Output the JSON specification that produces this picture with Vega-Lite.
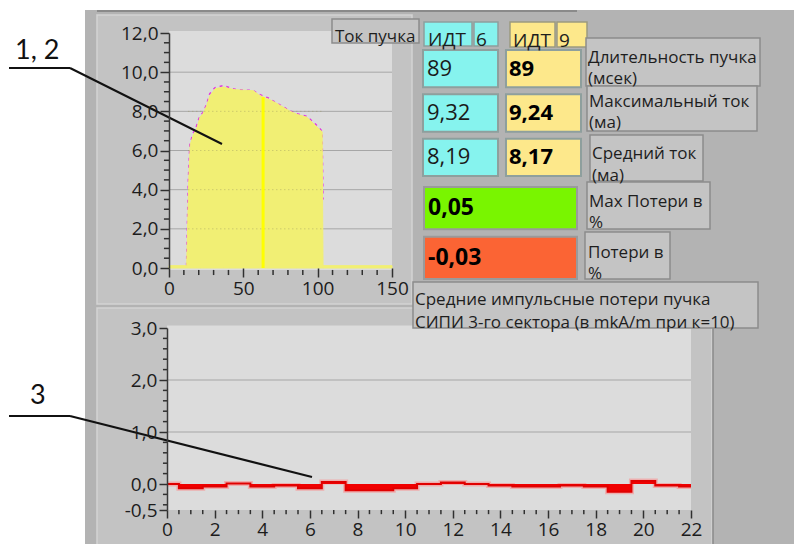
{
  "$schema": "https://vega.github.io/schema/vega-lite/v6.json",
  "width": 794,
  "height": 544,
  "autosize": {"type": "none"},
  "padding": 0,
  "background": "#ffffff",
  "config": {
    "view": {"stroke": null},
    "axis": {"labelFont": "Open Sans", "labelFontSize": 19, "labelColor": "#1c1c1c", "tickColor": "#303030", "domainColor": "#3a3a3a", "grid": false, "labelFlush": false}
  },
  "datasets": {
    "beam": [
      {"s": "ИДТ 9", "t": 0, "i": 0.12}, {"s": "ИДТ 9", "t": 11.9, "i": 0.12}, {"s": "ИДТ 9", "t": 12.5, "i": 2.0}, {"s": "ИДТ 9", "t": 13.3, "i": 4.5},
      {"s": "ИДТ 9", "t": 14.3, "i": 6.3}, {"s": "ИДТ 9", "t": 16.4, "i": 6.8}, {"s": "ИДТ 9", "t": 18.6, "i": 7.1}, {"s": "ИДТ 9", "t": 20.9, "i": 7.7},
      {"s": "ИДТ 9", "t": 23, "i": 7.9}, {"s": "ИДТ 9", "t": 25.4, "i": 8.3}, {"s": "ИДТ 9", "t": 27.6, "i": 8.8}, {"s": "ИДТ 9", "t": 31, "i": 9.15},
      {"s": "ИДТ 9", "t": 36.6, "i": 9.24}, {"s": "ИДТ 9", "t": 41, "i": 9.15}, {"s": "ИДТ 9", "t": 45, "i": 9.1}, {"s": "ИДТ 9", "t": 50, "i": 9.08},
      {"s": "ИДТ 9", "t": 56.8, "i": 9.05}, {"s": "ИДТ 9", "t": 60.2, "i": 8.85}, {"s": "ИДТ 9", "t": 63.6, "i": 8.72}, {"s": "ИДТ 9", "t": 66.9, "i": 8.62},
      {"s": "ИДТ 9", "t": 70.3, "i": 8.5}, {"s": "ИДТ 9", "t": 74.8, "i": 8.3}, {"s": "ИДТ 9", "t": 81.5, "i": 8.0}, {"s": "ИДТ 9", "t": 86, "i": 7.85},
      {"s": "ИДТ 9", "t": 92.7, "i": 7.7}, {"s": "ИДТ 9", "t": 96.1, "i": 7.45}, {"s": "ИДТ 9", "t": 101.7, "i": 7.05}, {"s": "ИДТ 9", "t": 103, "i": 6.95},
      {"s": "ИДТ 9", "t": 103.6, "i": 0.12}, {"s": "ИДТ 9", "t": 150, "i": 0.12},
      {"s": "ИДТ 6", "t": 11.8, "i": 0.12}, {"s": "ИДТ 6", "t": 12.3, "i": 2.0}, {"s": "ИДТ 6", "t": 13.0, "i": 4.5},
      {"s": "ИДТ 6", "t": 14.0, "i": 6.3}, {"s": "ИДТ 6", "t": 16.0, "i": 6.85}, {"s": "ИДТ 6", "t": 18.3, "i": 7.2}, {"s": "ИДТ 6", "t": 20.6, "i": 7.75},
      {"s": "ИДТ 6", "t": 23, "i": 7.95}, {"s": "ИДТ 6", "t": 25.2, "i": 8.35}, {"s": "ИДТ 6", "t": 27.4, "i": 8.9}, {"s": "ИДТ 6", "t": 30.8, "i": 9.2},
      {"s": "ИДТ 6", "t": 36.6, "i": 9.32}, {"s": "ИДТ 6", "t": 41, "i": 9.2}, {"s": "ИДТ 6", "t": 45, "i": 9.12}, {"s": "ИДТ 6", "t": 50, "i": 9.09},
      {"s": "ИДТ 6", "t": 56.8, "i": 9.06}, {"s": "ИДТ 6", "t": 60.2, "i": 8.88}, {"s": "ИДТ 6", "t": 63.6, "i": 8.78}, {"s": "ИДТ 6", "t": 66.9, "i": 8.68},
      {"s": "ИДТ 6", "t": 70.3, "i": 8.52}, {"s": "ИДТ 6", "t": 74.8, "i": 8.32}, {"s": "ИДТ 6", "t": 81.5, "i": 8.02}, {"s": "ИДТ 6", "t": 86, "i": 7.88},
      {"s": "ИДТ 6", "t": 92.7, "i": 7.75}, {"s": "ИДТ 6", "t": 96.1, "i": 7.52}, {"s": "ИДТ 6", "t": 98.5, "i": 7.35}, {"s": "ИДТ 6", "t": 101.7, "i": 7.1},
      {"s": "ИДТ 6", "t": 103, "i": 6.98}, {"s": "ИДТ 6", "t": 103.6, "i": 3.5}
    ],
    "loss": [
      {"k": 0, "p": 0.0}, {"k": 1, "p": -0.08}, {"k": 2, "p": -0.05}, {"k": 3, "p": 0.01}, {"k": 4, "p": -0.05}, {"k": 5, "p": -0.03},
      {"k": 6, "p": -0.08}, {"k": 7, "p": 0.04}, {"k": 8, "p": -0.12}, {"k": 9, "p": -0.12}, {"k": 10, "p": -0.08}, {"k": 11, "p": 0.0},
      {"k": 12, "p": 0.03}, {"k": 13, "p": 0.0}, {"k": 14, "p": -0.03}, {"k": 15, "p": -0.05}, {"k": 16, "p": -0.05}, {"k": 17, "p": -0.03},
      {"k": 18, "p": -0.05}, {"k": 19, "p": -0.15}, {"k": 20, "p": 0.06}, {"k": 21, "p": -0.03}, {"k": 22, "p": -0.05}
    ],
    "grid": [
      {"idt": "ИДТ 6", "param": "Длительность пучка", "value": "89"},
      {"idt": "ИДТ 9", "param": "Длительность пучка", "value": "89"},
      {"idt": "ИДТ 6", "param": "Максимальный ток", "value": "9,32"},
      {"idt": "ИДТ 9", "param": "Максимальный ток", "value": "9,24"},
      {"idt": "ИДТ 6", "param": "Средний ток", "value": "8,19"},
      {"idt": "ИДТ 9", "param": "Средний ток", "value": "8,17"}
    ],
    "losses": [
      {"param": "Max Потери в %", "value": "0,05"},
      {"param": "Потери в %", "value": "-0,03"}
    ]
  },
  "resolve": {
    "scale": {"x": "independent", "y": "independent", "color": "independent"},
    "axis": {"x": "independent", "y": "independent"}
  },
  "layer": [
    {
      "data": {"values": [{}]},
      "layer": [
        {"mark": {"type": "rect", "fill": "#b3b3b3"},
         "encoding": {"x": {"datum": 85, "type": "quantitative", "scale": {"domain": [0, 794], "range": [0, 794], "nice": false, "zero": false}, "axis": null}, "x2": {"datum": 794},
                      "y": {"datum": 10, "type": "quantitative", "scale": {"domain": [0, 544], "range": [0, 544], "nice": false, "zero": false}, "axis": null}, "y2": {"datum": 544}}},
        {"mark": {"type": "rule", "stroke": "#8a8a8a", "strokeWidth": 2},
         "encoding": {"x": {"datum": 97, "type": "quantitative"}, "x2": {"datum": 577}, "y": {"datum": 11, "type": "quantitative"}}},
        {"mark": {"type": "rect", "fill": "#c3c3c3", "stroke": "#d4d4d4", "strokeWidth": 1.5},
         "encoding": {"x": {"datum": 97, "type": "quantitative"}, "x2": {"datum": 412}, "y": {"datum": 15, "type": "quantitative"}, "y2": {"datum": 304}}},
        {"mark": {"type": "rect", "fill": "#c3c3c3", "stroke": "#d4d4d4", "strokeWidth": 1.5},
         "encoding": {"x": {"datum": 97, "type": "quantitative"}, "x2": {"datum": 712}, "y": {"datum": 308, "type": "quantitative"}, "y2": {"datum": 545}}},
        {"mark": {"type": "rule", "stroke": "#8a8a8a", "strokeWidth": 1.5},
         "encoding": {"x": {"datum": 713, "type": "quantitative"}, "y": {"datum": 308, "type": "quantitative"}, "y2": {"datum": 544}}}
      ]
    },
    {
      "data": {"name": "beam"},
      "layer": [
        {"data": {"values": [{}]},
         "mark": {"type": "rect", "fill": "#dcdcdc"},
         "encoding": {
           "x": {"datum": 0, "type": "quantitative", "scale": {"domain": [0, 150], "range": [169, 392], "nice": false, "zero": false},
                 "axis": {"orient": "bottom", "offset": -276, "title": null, "domain": false, "zindex": 3, "values": [0, 50, 100, 150],
                          "tickSize": 9, "tickWidth": 1.5, "labelPadding": 2}},
           "x2": {"datum": 150},
           "y": {"datum": -0.1, "type": "quantitative", "scale": {"domain": [0, 12], "range": [268, 33], "nice": false, "zero": false},
                 "axis": {"orient": "left", "offset": -169, "title": null, "domain": true, "domainWidth": 1.5, "zindex": 3, "values": [0, 2, 4, 6, 8, 10, 12],
                          "labelExpr": "replace(format(datum.value, '.1f'), '.', ',')", "tickSize": 9, "tickWidth": 1.5, "labelPadding": 2}},
           "y2": {"datum": 12.1}}},
        {"data": {"values": [{"g": 2}, {"g": 4}, {"g": 6}, {"g": 8}, {"g": 10}]},
         "mark": {"type": "rule", "stroke": "#a6a6a6", "strokeWidth": 1},
         "encoding": {"x": {"datum": 0, "type": "quantitative"}, "x2": {"datum": 150}, "y": {"field": "g", "type": "quantitative"}}},
        {"data": {"values": [{"m": 0.5}, {"m": 1}, {"m": 1.5}, {"m": 2.5}, {"m": 3}, {"m": 3.5}, {"m": 4.5}, {"m": 5}, {"m": 5.5}, {"m": 6.5}, {"m": 7}, {"m": 7.5}, {"m": 8.5}, {"m": 9}, {"m": 9.5}, {"m": 10.5}, {"m": 11}, {"m": 11.5}]},
         "mark": {"type": "rule", "stroke": "#303030", "strokeWidth": 1.5},
         "encoding": {"x": {"datum": 0, "type": "quantitative"}, "x2": {"datum": -3.4}, "y": {"field": "m", "type": "quantitative"}}},
        {"data": {"values": [{"m": 10}, {"m": 20}, {"m": 30}, {"m": 40}, {"m": 60}, {"m": 70}, {"m": 80}, {"m": 90}, {"m": 110}, {"m": 120}, {"m": 130}, {"m": 140}]},
         "mark": {"type": "rule", "stroke": "#303030", "strokeWidth": 1.5},
         "encoding": {"x": {"field": "m", "type": "quantitative"}, "y": {"datum": -0.1, "type": "quantitative"}, "y2": {"datum": -0.36}}},
        {"transform": [{"filter": "datum.s === 'ИДТ 6'"}],
         "mark": {"type": "line", "stroke": "#e03ce0", "strokeWidth": 1.5, "strokeDash": [3, 4]},
         "encoding": {"x": {"field": "t", "type": "quantitative"}, "y": {"field": "i", "type": "quantitative"}}},
        {"transform": [{"filter": "datum.s === 'ИДТ 9'"}],
         "mark": {"type": "area", "fill": "#f1ef74", "stroke": "#f1ef74", "strokeWidth": 1},
         "encoding": {"x": {"field": "t", "type": "quantitative"}, "y": {"field": "i", "type": "quantitative"}}},
        {"data": {"values": [{"g": 2}, {"g": 4}, {"g": 6}, {"g": 8}]},
         "mark": {"type": "rule", "stroke": "#9a9860", "strokeWidth": 1, "strokeDash": [1, 3], "strokeOpacity": 0.6},
         "encoding": {"x": {"datum": 13, "type": "quantitative"}, "x2": {"datum": 103}, "y": {"field": "g", "type": "quantitative"}}},
        {"data": {"values": [{}]},
         "mark": {"type": "rule", "stroke": "#ffff00", "strokeWidth": 3},
         "encoding": {"x": {"datum": 63.3, "type": "quantitative"}, "y": {"datum": 0, "type": "quantitative"}, "y2": {"datum": 8.72}}}
      ]
    },
    {
      "data": {"name": "loss"},
      "layer": [
        {"data": {"values": [{}]},
         "mark": {"type": "rect", "fill": "#dcdcdc"},
         "encoding": {
           "x": {"datum": 0, "type": "quantitative", "scale": {"domain": [0, 22], "range": [167, 691], "nice": false, "zero": false},
                 "axis": {"orient": "bottom", "offset": -34, "title": null, "domain": false, "zindex": 3,
                          "values": [0, 2, 4, 6, 8, 10, 12, 14, 16, 18, 20, 22],
                          "tickSize": 8, "tickWidth": 1.5, "labelPadding": 2}},
           "x2": {"datum": 22},
           "y": {"datum": -0.5, "type": "quantitative", "scale": {"domain": [-0.5, 3], "range": [510, 328], "nice": false, "zero": false},
                 "axis": {"orient": "left", "offset": -167, "title": null, "domain": true, "domainWidth": 1.5, "zindex": 3,
                          "values": [-0.5, 0, 1, 2, 3],
                          "labelExpr": "replace(replace(format(datum.value, '.1f'), '.', ','), '−', '-')",
                          "tickSize": 8, "tickWidth": 1.5, "labelPadding": 2}},
           "y2": {"datum": 3.05}}},
        {"data": {"values": [{"g": 1}, {"g": 2}]},
         "mark": {"type": "rule", "stroke": "#a6a6a6", "strokeWidth": 1},
         "encoding": {"x": {"datum": 0, "type": "quantitative"}, "x2": {"datum": 22}, "y": {"field": "g", "type": "quantitative"}}},
        {"data": {"values": [{"m": -0.4}, {"m": -0.2}, {"m": 0.2}, {"m": 0.4}, {"m": 0.6}, {"m": 0.8}, {"m": 1.2}, {"m": 1.4}, {"m": 1.6}, {"m": 1.8}, {"m": 2.2}, {"m": 2.4}, {"m": 2.6}, {"m": 2.8}]},
         "mark": {"type": "rule", "stroke": "#303030", "strokeWidth": 1.5},
         "encoding": {"x": {"datum": 0, "type": "quantitative"}, "x2": {"datum": -0.17}, "y": {"field": "m", "type": "quantitative"}}},
        {"data": {"values": [{"m": 0.5}, {"m": 1}, {"m": 1.5}, {"m": 2.5}, {"m": 3}, {"m": 3.5}, {"m": 4.5}, {"m": 5}, {"m": 5.5}, {"m": 6.5}, {"m": 7}, {"m": 7.5}, {"m": 8.5}, {"m": 9}, {"m": 9.5}, {"m": 10.5}, {"m": 11}, {"m": 11.5}, {"m": 12.5}, {"m": 13}, {"m": 13.5}, {"m": 14.5}, {"m": 15}, {"m": 15.5}, {"m": 16.5}, {"m": 17}, {"m": 17.5}, {"m": 18.5}, {"m": 19}, {"m": 19.5}, {"m": 20.5}, {"m": 21}, {"m": 21.5}]},
         "mark": {"type": "rule", "stroke": "#303030", "strokeWidth": 1.5},
         "encoding": {"x": {"field": "m", "type": "quantitative"}, "y": {"datum": -0.5, "type": "quantitative"}, "y2": {"datum": -0.58}}},
        {"mark": {"type": "line", "interpolate": "step", "stroke": "#ff8080", "strokeWidth": 5, "strokeOpacity": 0.5},
         "encoding": {"x": {"field": "k", "type": "quantitative"}, "y": {"field": "p", "type": "quantitative"}}},
        {"mark": {"type": "area", "interpolate": "step", "fill": "#f00000"},
         "encoding": {"x": {"field": "k", "type": "quantitative"}, "y": {"field": "p", "type": "quantitative"}, "y2": {"datum": 0}}},
        {"mark": {"type": "line", "interpolate": "step", "stroke": "#e00000", "strokeWidth": 2},
         "encoding": {"x": {"field": "k", "type": "quantitative"}, "y": {"field": "p", "type": "quantitative"}}}
      ]
    },
    {
      "data": {"name": "grid"},
      "encoding": {
        "x": {"field": "idt", "type": "nominal", "scale": {"type": "band", "domain": ["ИДТ 6", "ИДТ 9"], "range": [423, 581], "paddingInner": 0.096, "paddingOuter": 0}, "axis": null},
        "y": {"field": "param", "type": "nominal", "scale": {"type": "band", "domain": ["Длительность пучка", "Максимальный ток", "Средний ток"], "range": [50, 176], "paddingInner": 0.16, "paddingOuter": 0}, "axis": null}
      },
      "layer": [
        {"mark": {"type": "rect", "stroke": "#8e9f9d", "strokeWidth": 2},
         "encoding": {"color": {"field": "idt", "type": "nominal", "scale": {"domain": ["ИДТ 6", "ИДТ 9"], "range": ["#86f3ee", "#fde88b"]}, "legend": null}}},
        {"transform": [{"filter": "datum.idt === 'ИДТ 6'"}],
         "mark": {"type": "text", "align": "left", "baseline": "middle", "dx": 4, "font": "Open Sans", "fontSize": 22, "fill": "#1a1a1a"},
         "encoding": {"x": {"field": "idt", "type": "nominal", "bandPosition": 0}, "text": {"field": "value"}}},
        {"transform": [{"filter": "datum.idt === 'ИДТ 9'"}],
         "mark": {"type": "text", "align": "left", "baseline": "middle", "dx": 3, "font": "Open Sans", "fontSize": 22, "fontWeight": "bold", "fill": "#000000"},
         "encoding": {"x": {"field": "idt", "type": "nominal", "bandPosition": 0}, "text": {"field": "value"}}}
      ]
    },
    {
      "data": {"name": "losses"},
      "encoding": {
        "y": {"field": "param", "type": "nominal", "scale": {"type": "band", "domain": ["Max Потери в %", "Потери в %"], "range": [187, 279], "paddingInner": 0.15, "paddingOuter": 0}, "axis": null}
      },
      "layer": [
        {"mark": {"type": "rect", "stroke": "#9a9a9a", "strokeWidth": 2},
         "encoding": {"x": {"datum": 424, "type": "quantitative", "scale": {"domain": [0, 794], "range": [0, 794], "nice": false, "zero": false}, "axis": null}, "x2": {"datum": 577},
                      "color": {"field": "param", "type": "nominal", "scale": {"domain": ["Max Потери в %", "Потери в %"], "range": ["#79f500", "#fb6434"]}, "legend": null}}},
        {"mark": {"type": "text", "align": "left", "baseline": "middle", "font": "Open Sans", "fontSize": 23, "fontWeight": "bold", "fill": "#000000"},
         "encoding": {"x": {"datum": 428, "type": "quantitative"}, "text": {"field": "value"}}}
      ]
    },
    {
      "data": {"values": [{}]},
      "encoding": {
        "x": {"type": "quantitative", "scale": {"domain": [0, 794], "range": [0, 794], "nice": false, "zero": false}, "axis": null},
        "y": {"type": "quantitative", "scale": {"domain": [0, 544], "range": [0, 544], "nice": false, "zero": false}, "axis": null}
      },
      "layer": [
        {"mark": {"type": "rect", "fill": "#c4c4c4", "stroke": "#8c8c8c", "strokeWidth": 1.5}, "encoding": {"x": {"datum": 332, "type": "quantitative"}, "x2": {"datum": 419}, "y": {"datum": 19, "type": "quantitative"}, "y2": {"datum": 43}}},
        {"mark": {"type": "rect", "fill": "#86f3ee", "stroke": "#8e9f9d", "strokeWidth": 1.5}, "encoding": {"x": {"datum": 424, "type": "quantitative"}, "x2": {"datum": 472}, "y": {"datum": 22, "type": "quantitative"}, "y2": {"datum": 46}}},
        {"mark": {"type": "rect", "fill": "#86f3ee", "stroke": "#8e9f9d", "strokeWidth": 1.5}, "encoding": {"x": {"datum": 474, "type": "quantitative"}, "x2": {"datum": 498}, "y": {"datum": 22, "type": "quantitative"}, "y2": {"datum": 46}}},
        {"mark": {"type": "rect", "fill": "#fde88b", "stroke": "#9c9a80", "strokeWidth": 1.5}, "encoding": {"x": {"datum": 510, "type": "quantitative"}, "x2": {"datum": 555}, "y": {"datum": 22, "type": "quantitative"}, "y2": {"datum": 47}}},
        {"mark": {"type": "rect", "fill": "#fde88b", "stroke": "#9c9a80", "strokeWidth": 1.5}, "encoding": {"x": {"datum": 557, "type": "quantitative"}, "x2": {"datum": 587}, "y": {"datum": 22, "type": "quantitative"}, "y2": {"datum": 47}}},
        {"mark": {"type": "rect", "fill": "#c4c4c4", "stroke": "#8c8c8c", "strokeWidth": 1.5}, "encoding": {"x": {"datum": 586, "type": "quantitative"}, "x2": {"datum": 760}, "y": {"datum": 38, "type": "quantitative"}, "y2": {"datum": 86}}},
        {"mark": {"type": "rect", "fill": "#c4c4c4", "stroke": "#8c8c8c", "strokeWidth": 1.5}, "encoding": {"x": {"datum": 587, "type": "quantitative"}, "x2": {"datum": 757}, "y": {"datum": 86, "type": "quantitative"}, "y2": {"datum": 131}}},
        {"mark": {"type": "rect", "fill": "#c4c4c4", "stroke": "#8c8c8c", "strokeWidth": 1.5}, "encoding": {"x": {"datum": 590, "type": "quantitative"}, "x2": {"datum": 703}, "y": {"datum": 135, "type": "quantitative"}, "y2": {"datum": 181}}},
        {"mark": {"type": "rect", "fill": "#c4c4c4", "stroke": "#8c8c8c", "strokeWidth": 1.5}, "encoding": {"x": {"datum": 587, "type": "quantitative"}, "x2": {"datum": 710}, "y": {"datum": 182, "type": "quantitative"}, "y2": {"datum": 229}}},
        {"mark": {"type": "rect", "fill": "#c4c4c4", "stroke": "#8c8c8c", "strokeWidth": 1.5}, "encoding": {"x": {"datum": 585, "type": "quantitative"}, "x2": {"datum": 670}, "y": {"datum": 232, "type": "quantitative"}, "y2": {"datum": 279}}},
        {"mark": {"type": "rect", "fill": "#c4c4c4", "stroke": "#8c8c8c", "strokeWidth": 1.5}, "encoding": {"x": {"datum": 413, "type": "quantitative"}, "x2": {"datum": 758}, "y": {"datum": 282, "type": "quantitative"}, "y2": {"datum": 328}}},
        {"mark": {"type": "text", "align": "left", "font": "Open Sans", "fontSize": 17, "fill": "#1e1e1e"}, "encoding": {"x": {"datum": 335, "type": "quantitative"}, "y": {"datum": 37, "type": "quantitative"}, "text": {"value": "Ток пучка"}}},
        {"mark": {"type": "text", "align": "left", "font": "Open Sans", "fontSize": 19, "fill": "#1e1e1e"}, "encoding": {"x": {"datum": 428, "type": "quantitative"}, "y": {"datum": 40, "type": "quantitative"}, "text": {"value": "ИДТ"}}},
        {"mark": {"type": "text", "align": "left", "font": "Open Sans", "fontSize": 19, "fill": "#1e1e1e"}, "encoding": {"x": {"datum": 476, "type": "quantitative"}, "y": {"datum": 40, "type": "quantitative"}, "text": {"value": "6"}}},
        {"mark": {"type": "text", "align": "left", "font": "Open Sans", "fontSize": 19, "fill": "#1e1e1e"}, "encoding": {"x": {"datum": 513, "type": "quantitative"}, "y": {"datum": 41, "type": "quantitative"}, "text": {"value": "ИДТ"}}},
        {"mark": {"type": "text", "align": "left", "font": "Open Sans", "fontSize": 19, "fill": "#1e1e1e"}, "encoding": {"x": {"datum": 559, "type": "quantitative"}, "y": {"datum": 41, "type": "quantitative"}, "text": {"value": "9"}}},
        {"mark": {"type": "text", "align": "left", "font": "Open Sans", "fontSize": 17, "lineHeight": 21, "fill": "#1e1e1e"}, "encoding": {"x": {"datum": 588, "type": "quantitative"}, "y": {"datum": 58, "type": "quantitative"}, "text": {"value": ["Длительность пучка", "(мсек)"]}}},
        {"mark": {"type": "text", "align": "left", "font": "Open Sans", "fontSize": 17, "lineHeight": 21, "fill": "#1e1e1e"}, "encoding": {"x": {"datum": 589, "type": "quantitative"}, "y": {"datum": 102, "type": "quantitative"}, "text": {"value": ["Максимальный ток", "(ма)"]}}},
        {"mark": {"type": "text", "align": "left", "font": "Open Sans", "fontSize": 17, "lineHeight": 22, "fill": "#1e1e1e"}, "encoding": {"x": {"datum": 592, "type": "quantitative"}, "y": {"datum": 154, "type": "quantitative"}, "text": {"value": ["Средний ток", "(ма)"]}}},
        {"mark": {"type": "text", "align": "left", "font": "Open Sans", "fontSize": 17, "lineHeight": 21, "fill": "#1e1e1e"}, "encoding": {"x": {"datum": 589, "type": "quantitative"}, "y": {"datum": 202, "type": "quantitative"}, "text": {"value": ["Max Потери в", "%"]}}},
        {"mark": {"type": "text", "align": "left", "font": "Open Sans", "fontSize": 17, "lineHeight": 21, "fill": "#1e1e1e"}, "encoding": {"x": {"datum": 588, "type": "quantitative"}, "y": {"datum": 253, "type": "quantitative"}, "text": {"value": ["Потери в", "%"]}}},
        {"mark": {"type": "text", "align": "left", "font": "Open Sans", "fontSize": 17, "lineHeight": 23, "fill": "#1e1e1e"}, "encoding": {"x": {"datum": 415, "type": "quantitative"}, "y": {"datum": 300, "type": "quantitative"}, "text": {"value": ["Средние импульсные потери пучка", "СИПИ 3-го сектора (в mkA/m при к=10)"]}}},
        {"mark": {"type": "text", "align": "left", "font": "Lato", "fontSize": 27, "fill": "#111111"}, "encoding": {"x": {"datum": 15, "type": "quantitative"}, "y": {"datum": 51, "type": "quantitative"}, "text": {"value": "1, 2"}}},
        {"mark": {"type": "text", "align": "left", "font": "Lato", "fontSize": 27, "fill": "#111111"}, "encoding": {"x": {"datum": 30, "type": "quantitative"}, "y": {"datum": 396, "type": "quantitative"}, "text": {"value": "3"}}},
        {"mark": {"type": "rule", "stroke": "#111111", "strokeWidth": 2}, "encoding": {"x": {"datum": 9, "type": "quantitative"}, "x2": {"datum": 70}, "y": {"datum": 68, "type": "quantitative"}}},
        {"mark": {"type": "rule", "stroke": "#111111", "strokeWidth": 2}, "encoding": {"x": {"datum": 70, "type": "quantitative"}, "x2": {"datum": 222}, "y": {"datum": 68, "type": "quantitative"}, "y2": {"datum": 144}}},
        {"mark": {"type": "rule", "stroke": "#111111", "strokeWidth": 2}, "encoding": {"x": {"datum": 9, "type": "quantitative"}, "x2": {"datum": 70}, "y": {"datum": 416, "type": "quantitative"}}},
        {"mark": {"type": "rule", "stroke": "#111111", "strokeWidth": 2}, "encoding": {"x": {"datum": 70, "type": "quantitative"}, "x2": {"datum": 312}, "y": {"datum": 416, "type": "quantitative"}, "y2": {"datum": 477}}}
      ]
    }
  ]
}
